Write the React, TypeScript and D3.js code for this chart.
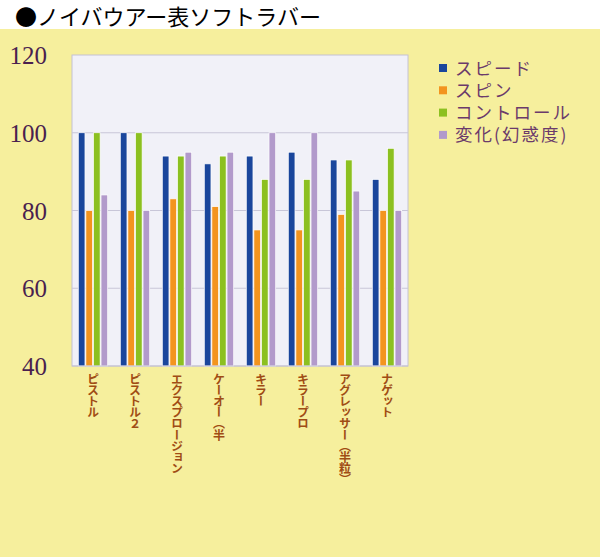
import React from "react";
import * as d3 from "d3";

const categories = ["ピストル", "ピストル２", "エクスプロージョン", "ケーオー（半", "キラー", "キラープロ", "アグレッサー（半粒）", "ナゲット"];
const seriesNames = ["スピード", "スピン", "コントロール", "変化(幻惑度)"];
const speed = [100, 100, 94, 92, 94, 95, 93, 88];
const spin = [80, 80, 83, 81, 75, 75, 79, 80];
const control = [100, 100, 94, 94, 88, 88, 93, 96];
const variation = [84, 80, 95, 95, 100, 100, 85, 80];
const yTicks = [40, 60, 80, 100, 120];
const colors = ["#1a469c", "#f3941e", "#8cc020", "#b29acb"];

export default function App() {
  const W = 600, H = 557;
  const series = [speed, spin, control, variation];
  const left = 72, right = 408, top = 55, bottom = 366;
  const x0 = d3.scaleBand<string>().domain(categories).range([left, right]).paddingInner(0.3).paddingOuter(0.15);
  const x1 = d3.scaleBand<number>().domain([0, 1, 2, 3]).range([0, x0.bandwidth()]).paddingInner(0.12);
  const y = d3.scaleLinear().domain([40, 120]).range([bottom, top]);

  return (
    <svg width={W} height={H} style={{ position: "absolute", left: 0, top: 0, display: "block" }}>
      <rect x={0} y={0} width={W} height={H} fill="#ffffff" />
      <rect x={0} y={29} width={W} height={H - 29} fill="#f6ef9d" />
      <text x={15} y={25} fontFamily="'Noto Sans CJK JP', sans-serif" fontSize={22} fill="#000">●ノイバウアー表ソフトラバー</text>
      <rect x={left} y={top} width={right - left} height={bottom - top} fill="#f1f1f8" stroke="#c4c2d4" strokeWidth={1} />
      {yTicks.filter(t => t > 40 && t < 120).map(t => (
        <line key={t} x1={left} x2={right} y1={y(t)} y2={y(t)} stroke="#c8c6d8" strokeWidth={1.2} />
      ))}
      {yTicks.map(t => (
        <text key={t} x={47} y={y(t) + 9} textAnchor="end" fontFamily="'Liberation Serif', serif" fontSize={25} fill="#4a1f4f">{t}</text>
      ))}
      {categories.map((c, i) => (
        <g key={c} transform={`translate(${x0(c)},0)`}>
          {series.map((s, j) => (
            <rect key={j} x={x1(j)} y={y(s[i])} width={x1.bandwidth()} height={bottom - y(s[i])} fill={colors[j]} stroke="#ffffff" strokeWidth={0.7} />
          ))}
        </g>
      ))}
      <line x1={left} x2={right} y1={bottom} y2={bottom} stroke="#c4c2d4" strokeWidth={1} />
      {categories.map(c => (
        <text key={c} x={(x0(c) as number) + x0.bandwidth() / 2} y={373}
          fontFamily="'Noto Sans CJK JP', sans-serif" fontWeight="bold" fontSize={12} letterSpacing={-0.8} fill="#a04c14"
          style={{ writingMode: "vertical-rl", textOrientation: "mixed" } as any}>{c}</text>
      ))}
      {seriesNames.map((n, j) => (
        <g key={n} transform={`translate(0,${68 + j * 22.3})`}>
          <rect x={439} y={-4} width={8} height={8} fill={colors[j]} />
          <text x={455} y={6.5} fontFamily="'Noto Sans CJK JP', sans-serif" fontSize={17.5} letterSpacing={2} fill="#6b3a6b">{n}</text>
        </g>
      ))}
    </svg>
  );
}
